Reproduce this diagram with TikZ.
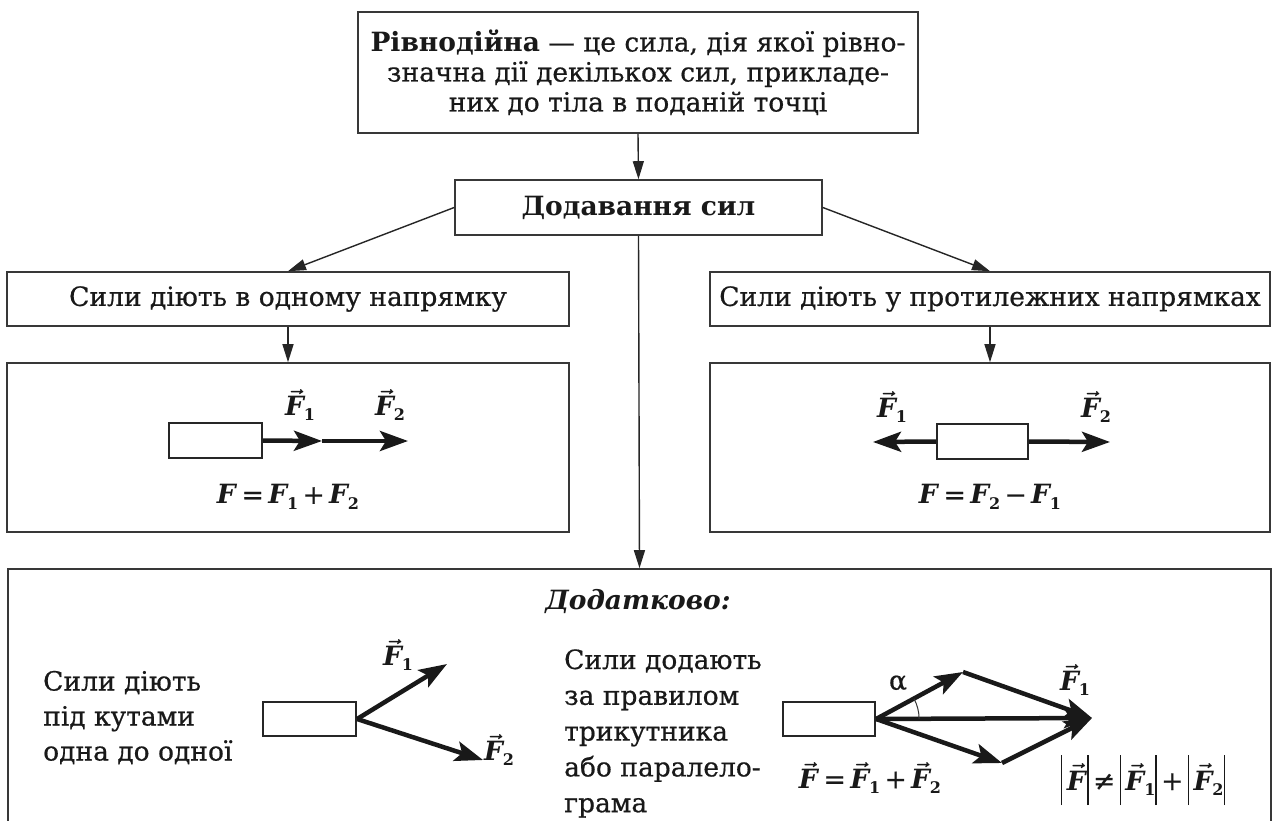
\documentclass[tikz,border=0pt]{standalone}
\usepackage{fontspec}
\setmainfont{DejaVu Serif}[UprightFeatures={FakeBold=0.6}]
\usetikzlibrary{arrows.meta}
\newcommand{\Fi}{\textbf{\textit{F}}}
\newcommand{\lowidx}[1]{\kern-0.06em\raisebox{-0.4ex}{\fontsize{16}{16}\selectfont\bfseries #1}}
\newcommand{\Fsub}[1]{\Fi\lowidx{#1}}
\newcommand{\Fvec}{{\boldmath$\vec{\mbox{\Fi}}$}}
\newcommand{\Fvsub}[1]{\Fvec\lowidx{#1}}
\newcommand{\tallbar}{\rule[-15pt]{1.4pt}{50pt}}
\tikzset{
  box/.style={draw=black!78, line width=1.6pt, inner sep=0pt, text=black!90},
  body/.style={draw=black!85, line width=2.2pt, inner sep=0pt},
  conn/.style={draw=black!85, line width=1.4pt, -{Triangle[length=18pt,width=11pt]}},
  force/.style={draw=black!90, line width=4.5pt, -{Stealth[length=28pt,width=20pt,inset=6pt]}},
  lbl/.style={inner sep=0pt, text=black!90},
  txt/.style={inner sep=0pt, text=black!90, align=left}
}
\begin{document}
\begin{tikzpicture}[x=1pt,y=-1pt, font=\fontsize{26.5}{30}\selectfont]
\useasboundingbox[fill=white] (0,0) rectangle (1272,821);

% main boxes
\node[box, minimum width=560pt, minimum height=121pt, align=center] (top) at (638,72.5)
  {\textbf{Рівнодійна} — це сила, дія якої рівно-\\значна дії декількох сил, прикладе-\\них до тіла в поданій точці};
\node[box, minimum width=367pt, minimum height=55pt] (dod) at (638.5,207.5) {\textbf{Додавання сил}};
\node[box, minimum width=562pt, minimum height=54pt] (L1) at (288,299) {Сили діють в одному напрямку};
\node[box, minimum width=560pt, minimum height=54pt] (R1) at (990,299) {Сили діють у протилежних напрямках};
\node[box, minimum width=562pt, minimum height=169pt] (L2) at (288,447.5) {};
\node[box, minimum width=560pt, minimum height=169pt] (R2) at (990,447.5) {};
\node[box, minimum width=1263pt, minimum height=262pt] (bot) at (639.5,700) {};

% connectors
\draw[conn] (top.south) -- (dod.north);
\draw[conn] (dod.west) -- (L1.north);
\draw[conn] (dod.east) -- (R1.north);
\draw[conn] (L1.south) -- (L2.north);
\draw[conn] (R1.south) -- (R2.north);
\draw[conn] (dod.south) -- (bot.north);

% left inner: same direction
\node[body, minimum width=93pt, minimum height=35pt] (lb) at (215.5,440.5) {};
\coordinate (l1) at (322,441);
\coordinate (l2) at (408,441);
\draw[force] (lb.east) -- (l1);
\draw[force] (l1) -- (l2);
\node[lbl] (lf1) at (300,405) {\Fvsub{1}};
\node[lbl] (lf2) at (390,405) {\Fvsub{2}};
\node[lbl] (lform) at (288,497) {\Fi\,=\,\Fsub{1}\,+\,\Fsub{2}};

% right inner: opposite directions
\node[body, minimum width=91pt, minimum height=35pt] (rb) at (982.5,441.5) {};
\coordinate (r1) at (873,442);
\coordinate (r2) at (1110,442);
\draw[force] (rb.west) -- (r1);
\draw[force] (rb.east) -- (r2);
\node[lbl] (rf1) at (892,407) {\Fvsub{1}};
\node[lbl] (rf2) at (1096,407) {\Fvsub{2}};
\node[lbl] (rform) at (990,497) {\Fi\,=\,\Fsub{2}\,−\,\Fsub{1}};

% bottom
\node[lbl] (extra) at (638,602) {\textbf{\textit{Додатково:}}};
\node[txt, anchor=west, font=\fontsize{26.5}{35}\selectfont] (t1) at (43,717.5) {Сили діють\\під кутами\\одна до одної};
\node[body, minimum width=93pt, minimum height=34pt] (bl) at (309.5,719) {};
\coordinate (bf1) at (447,664);
\coordinate (bf2) at (483,760);
\draw[force] (bl.east) -- (bf1);
\draw[force] (bl.east) -- (bf2);
\node[lbl] (blf1) at (398,655) {\Fvsub{1}};
\node[lbl] (blf2) at (499,750) {\Fvsub{2}};

\node[txt, anchor=west, font=\fontsize{26.5}{35.8}\selectfont] (t2) at (564,733.5) {Сили додають\\за правилом\\трикутника\\або паралело-\\грама};
\node[body, minimum width=92pt, minimum height=34pt] (br) at (829,719) {};
\coordinate (pA) at (963,672);
\coordinate (pB) at (1002,763);
\coordinate (pR) at (1092,718);
\draw[force] (br.east) -- (pA);
\draw[force] (br.east) -- (pB);
\draw[force] (pA) -- (pR);
\draw[force] (pB) -- (pR);
\draw[force] (br.east) -- (pR);
\draw[line width=1pt, black!80] (br.east) ++(43,0) arc[start angle=0, end angle=-28, radius=43];
\node[lbl] (alpha) at (898,683) {α};
\node[lbl] (rf) at (1075,680) {\Fvsub{1}};
\node[lbl] (vform) at (870,778) {\Fvec\,=\,\Fvsub{1}\,+\,\Fvsub{2}};
\node[lbl] (nform) at (1143,780) {\tallbar\,\Fvec\tallbar\,≠\,\tallbar\,\Fvsub{1}\tallbar\,+\,\tallbar\,\Fvsub{2}\tallbar};
\end{tikzpicture}
\end{document}
